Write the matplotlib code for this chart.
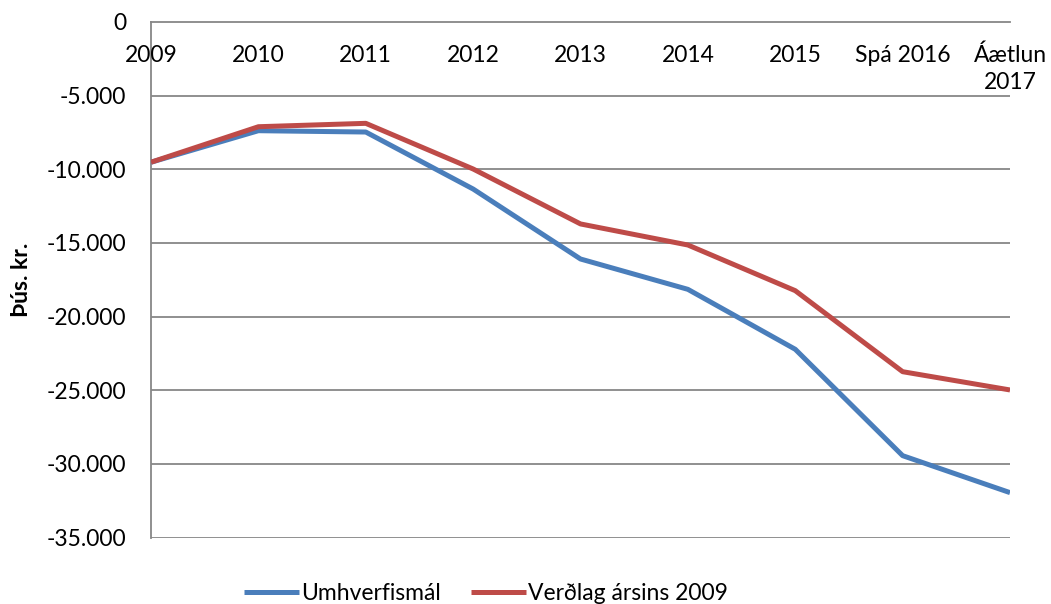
import matplotlib.pyplot as plt
from matplotlib.ticker import FuncFormatter
import matplotlib.transforms as mtransforms
import numpy as np

plt.rcParams['font.family'] = ['Lato', 'DejaVu Sans']

categories = ["2009", "2010", "2011", "2012", "2013", "2014", "2015",
              "Spá 2016", "Áætlun\n2017"]
umhverfismal = [-9520, -7380, -7470, -11340, -16090, -18150, -22220, -29440, -31950]
verdlag_2009 = [-9520, -7110, -6880, -9980, -13710, -15140, -18240, -23740, -24980]

BLUE = "#4A7EBB"
RED = "#BE4B48"
GRID = "#878787"
FS = 16.5

fig = plt.figure(figsize=(10.51, 6.04), dpi=100)
ax = fig.add_axes([0.1437, 0.110, 0.961 - 0.1437, 0.9636 - 0.110])

x = np.arange(len(categories))
ax.plot(x, umhverfismal, color=BLUE, lw=3.6, label="Umhverfismál",
        solid_joinstyle="round", solid_capstyle="butt", zorder=3)
ax.plot(x, verdlag_2009, color=RED, lw=3.6, label="Verðlag ársins 2009",
        solid_joinstyle="round", solid_capstyle="butt", zorder=4)

ax.set_xlim(0, len(categories) - 1)
ax.set_ylim(-35000, 0)
ax.set_yticks(np.arange(-35000, 1, 5000))
ax.yaxis.set_major_formatter(
    FuncFormatter(lambda v, _: f"{int(v):,}".replace(",", ".")))
ax.tick_params(axis="y", length=0, pad=18, labelsize=FS)
ax.set_xticks([])

for y in np.arange(-35000, 0, 5000):
    ax.axhline(y, color=GRID, lw=1.3, zorder=1)

for s in ["right", "bottom"]:
    ax.spines[s].set_visible(False)
for s in ["top", "left"]:
    ax.spines[s].set_color(GRID)
    ax.spines[s].set_linewidth(1.3)

# category labels hang just under the zero line
off = mtransforms.offset_copy(ax.transData, fig=fig, x=0, y=-23, units="dots")
for i, lab in enumerate(categories):
    ax.text(i, 0, lab, transform=off, ha="center", va="top",
            fontsize=FS, linespacing=1.3, zorder=5, clip_on=False)

ax.set_ylabel("Þús. kr.", fontsize=FS, fontweight="bold")
ax.yaxis.set_label_coords(-0.138, 0.5)

ax.legend(loc="lower center", bbox_to_anchor=(0.39, -0.168), ncol=2,
          frameon=False, fontsize=FS, handlelength=2.4, handletextpad=0.1,
          columnspacing=1.3)

fig.savefig("out.png", dpi=100)
